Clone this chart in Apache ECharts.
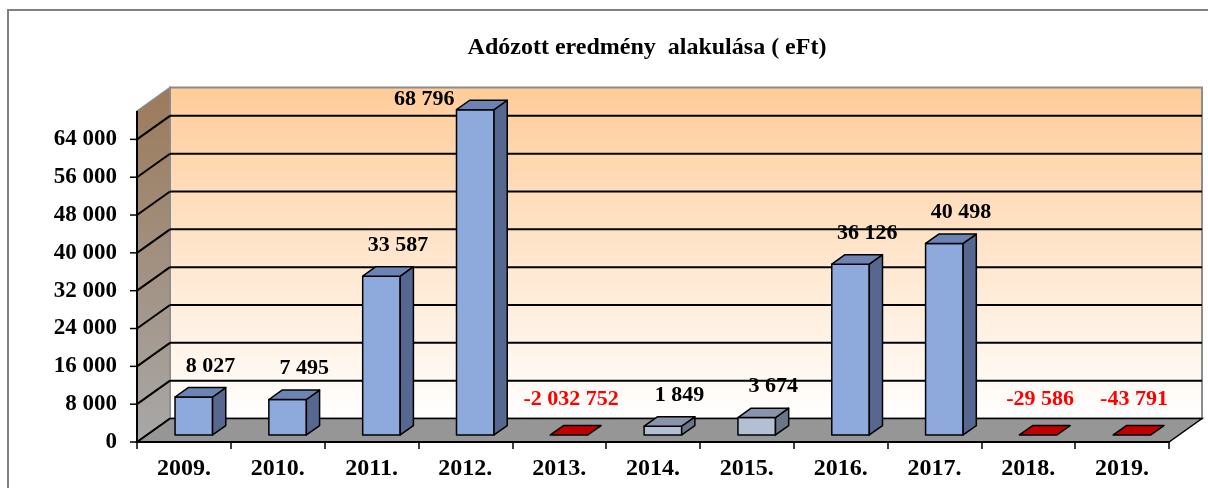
<!DOCTYPE html>
<html>
<head>
<meta charset="utf-8">
<script src="https://cdn.jsdelivr.net/npm/echarts@6/dist/echarts.min.js"></script>
<style>
html, body { margin: 0; padding: 0; background: #fff; }
#chart { width: 1208px; height: 488px; }
</style>
</head>
<body>
<div id="chart"></div>
<script>
// adatok
var years = ['2009.', '2010.', '2011.', '2012.', '2013.', '2014.', '2015.', '2016.', '2017.', '2018.', '2019.'];
var profit = [8027, 7495, 33587, 68796, -2032752, 1849, 3674, 36126, 40498, -29586, -43791];
var yTicks = [0, 8000, 16000, 24000, 32000, 40000, 48000, 56000, 64000];
var yMax = 70000;

var FONT = '"Liberation Serif", "Times New Roman", serif';
var DEPTH_X = 33, DEPTH_Y = -23.5;   // 3D melyseg
var mutedYears = ['2014.', '2015.'];

function fmt(v) {
	var s = String(Math.abs(v)).replace(/\B(?=(\d{3})+(?!\d))/g, ' ');
	return (v < 0 ? '-' : '') + s;
}

function renderWalls(params, api) {
	var cs = params.coordSys;
	var x0 = cs.x, x1 = cs.x + cs.width;
	var yb = api.coord([0, 0])[1], yt = api.coord([0, yMax])[1];
	var dx = DEPTH_X, dy = DEPTH_Y;
	var ch = [];
	// hatso fal
	ch.push({
		type: 'polygon',
		shape: { points: [[x0 + dx, yt + dy], [x1 + dx, yt + dy], [x1 + dx, yb + dy], [x0 + dx, yb + dy]] },
		style: {
			fill: new echarts.graphic.LinearGradient(0, 0, 0, 1, [
				{ offset: 0, color: '#FFCC99' }, { offset: 1, color: '#FFFFFF' }
			]),
			stroke: '#8c8c8c', lineWidth: 2
		}
	});
	// bal oldali fal
	ch.push({
		type: 'polygon',
		shape: { points: [[x0, yt], [x0 + dx, yt + dy], [x0 + dx, yb + dy], [x0, yb]] },
		style: {
			fill: new echarts.graphic.LinearGradient(0, 0, 0, 1, [
				{ offset: 0, color: '#9C7A5A' }, { offset: 1, color: '#A8A8A8' }
			]),
			stroke: '#8c8c8c', lineWidth: 1.5
		}
	});
	// padlo
	ch.push({
		type: 'polygon',
		shape: { points: [[x0, yb], [x1, yb], [x1 + dx, yb + dy], [x0 + dx, yb + dy]] },
		style: { fill: '#969696', stroke: '#000', lineWidth: 1.5 }
	});
	// racsvonalak
	yTicks.forEach(function (t) {
		var y = api.coord([0, t])[1];
		if (t > 0) {
			ch.push({ type: 'line', shape: { x1: x0 + dx, y1: y + dy, x2: x1 + dx, y2: y + dy }, style: { stroke: '#000', lineWidth: 2 } });
		}
		ch.push({ type: 'line', shape: { x1: x0, y1: y, x2: x0 + dx, y2: y + dy }, style: { stroke: '#000', lineWidth: 2 } });
		ch.push({ type: 'line', shape: { x1: x0 - 7, y1: y, x2: x0, y2: y }, style: { stroke: '#000', lineWidth: 1.5 } });
	});
	// elso tengely
	ch.push({ type: 'line', shape: { x1: x0, y1: yt, x2: x0, y2: yb }, style: { stroke: '#000', lineWidth: 2 } });
	return { type: 'group', children: ch };
}

function renderBar(params, api) {
	var i = api.value(0), v = api.value(1);
	var band = api.size([1, 0])[0];
	var base = api.coord([i, 0]);
	var top = api.coord([i, Math.max(v, 0)]);
	var plotTop = params.coordSys.y;
	var w = band * 0.4;
	var ox = DEPTH_X * 0.3, oy = DEPTH_Y * 0.3;
	var bx = DEPTH_X * 0.4, by = DEPTH_Y * 0.4;
	var xl = base[0] - w / 2 + ox, xr = xl + w;
	var yB = base[1] + oy, yT = top[1] + oy;
	var muted = mutedYears.indexOf(years[i]) >= 0;
	var c = v < 0 ? { front: '#C00000', top: '#C00000', side: '#900000' }
		: muted ? { front: '#B3BFD2', top: '#8794A9', side: '#6B7588' }
		: { front: '#8EA9DB', top: '#6C84B4', side: '#56688F' };
	var st = { stroke: '#000', lineWidth: 1.5, lineJoin: 'round' };
	var ch = [];
	if (v > 0) {
		ch.push({ type: 'polygon', shape: { points: [[xl, yT], [xr, yT], [xr, yB], [xl, yB]] }, style: Object.assign({ fill: c.front }, st) });
		ch.push({ type: 'polygon', shape: { points: [[xr, yT], [xr, yB], [xr + bx, yB + by], [xr + bx, yT + by]] }, style: Object.assign({ fill: c.side }, st) });
	}
	ch.push({ type: 'polygon', shape: { points: [[xl, yT], [xr, yT], [xr + bx, yT + by], [xl + bx, yT + by]] }, style: Object.assign({ fill: c.top }, st) });
	// felirat: ha kilogna a rajzterulet fole, a oszlop bal oldalara kerul
	var lx = (xl + xr) / 2 + (v < 0 ? 2 : bx / 2 + 10), ly = yT - (v < 0 ? 36 : 31), align = 'center';
	if (ly < plotTop) { lx = xl - 2; ly = yT - 10; align = 'right'; }
	ch.push({
		type: 'text',
		style: {
			x: lx, y: ly,
			text: fmt(v), align: align, verticalAlign: 'middle',
			font: 'bold 22px ' + FONT, fill: v < 0 ? '#FF0000' : '#000'
		}
	});
	return { type: 'group', children: ch };
}

var chart = echarts.init(document.getElementById('chart'));
var option = {
	animation: false,
	title: {
		text: 'Adózott eredmény  alakulása ( eFt)',
		left: 642, top: 31, textAlign: 'center',
		textStyle: { fontFamily: FONT, fontWeight: 'bold', fontSize: 24, color: '#000' }
	},
	graphic: [{
		type: 'rect', z: -10,
		shape: { x: 8, y: 10, width: 1400, height: 700 },
		style: { fill: 'transparent', stroke: '#808080', lineWidth: 2 }
	}],
	grid: { left: 137, right: 39, top: 111, bottom: 46 },
	xAxis: {
		type: 'category',
		data: years,
		z: 10,
		axisLine: { lineStyle: { color: '#000', width: 2 } },
		axisTick: { show: true, length: 7, lineStyle: { color: '#000', width: 1.5 } },
		axisLabel: { interval: 0, margin: 15, fontFamily: FONT, fontWeight: 'bold', fontSize: 24, color: '#000' }
	},
	yAxis: {
		type: 'value',
		min: 0, max: yMax, interval: 8000,
		axisLine: { show: false },
		axisTick: { show: false },
		splitLine: { show: false },
		axisLabel: {
			showMaxLabel: false, margin: 20,
			formatter: function (v) { return v === yMax ? '' : fmt(v); },
			fontFamily: FONT, fontWeight: 'bold', fontSize: 23, color: '#000'
		}
	},
	series: [
		{
			type: 'custom', silent: true, z: 1, clip: false,
			renderItem: renderWalls,
			data: [[0, 0]]
		},
		{
			type: 'custom', silent: true, z: 3, clip: false,
			renderItem: renderBar,
			encode: { x: 0, y: 1 },
			data: years.map(function (y, i) { return [i, profit[i]]; })
		}
	]
};
chart.setOption(option);
</script>
</body>
</html>
